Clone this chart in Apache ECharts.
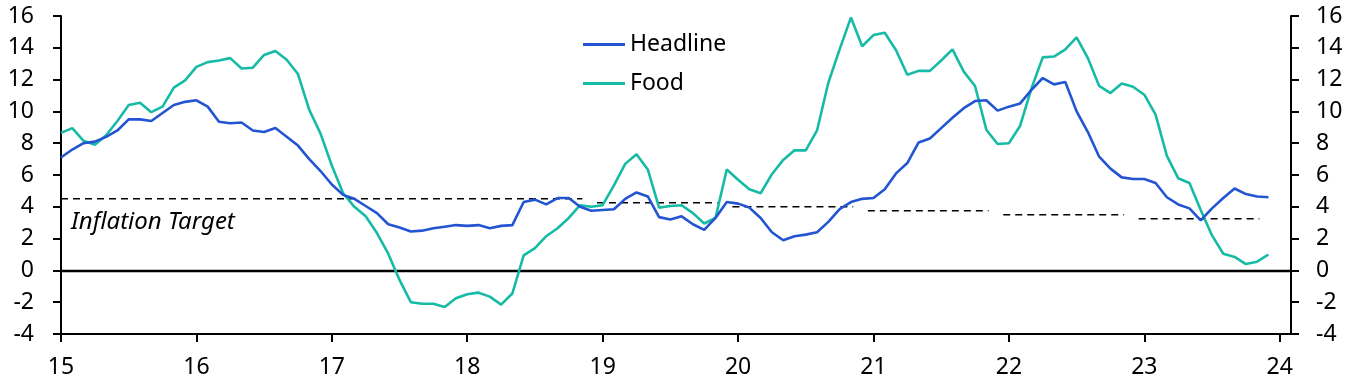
<!DOCTYPE html>
<html>
<head>
<meta charset="utf-8">
<script src="https://cdn.jsdelivr.net/npm/echarts@6/dist/echarts.min.js"></script>
<style>
html,body{margin:0;padding:0;background:#fff;}
#chart{width:1357px;height:384px;}
</style>
</head>
<body>
<div id="chart"></div>
<script>
// Monthly data, Jan 2015 .. Dec 2023 (y/y %)
const headline = [
  7.1,7.6,8.0,8.1,8.4,8.8,9.5,9.5,9.4,9.9,10.4,10.6,
  10.7,10.3,9.35,9.25,9.3,8.8,8.7,8.95,8.4,7.85,7.0,6.25,
  5.4,4.75,4.5,4.05,3.6,2.9,2.7,2.45,2.5,2.65,2.75,2.85,
  2.8,2.85,2.65,2.8,2.85,4.3,4.45,4.15,4.55,4.55,4.0,3.75,
  3.8,3.85,4.5,4.9,4.65,3.35,3.2,3.4,2.9,2.55,3.3,4.3,
  4.2,3.95,3.3,2.4,1.9,2.15,2.25,2.4,3.05,3.85,4.3,4.5,
  4.55,5.1,6.1,6.75,8.05,8.3,8.95,9.6,10.2,10.65,10.7,10.05,
  10.3,10.5,11.35,12.1,11.7,11.85,10.0,8.7,7.15,6.4,5.85,5.75,
  5.75,5.5,4.6,4.15,3.9,3.15,3.9,4.55,5.15,4.8,4.65,4.6
];
const food = [
  8.65,8.95,8.15,7.9,8.5,9.4,10.4,10.55,9.95,10.3,11.5,11.95,
  12.8,13.1,13.2,13.35,12.7,12.75,13.55,13.8,13.25,12.35,10.1,8.6,
  6.6,4.85,4.0,3.4,2.35,1.05,-0.6,-2.0,-2.1,-2.1,-2.3,-1.75,
  -1.5,-1.4,-1.65,-2.15,-1.45,0.95,1.4,2.15,2.65,3.3,4.1,4.0,
  4.1,5.35,6.7,7.3,6.35,3.95,4.05,4.1,3.6,2.95,3.3,6.35,
  5.7,5.1,4.85,6.05,6.95,7.55,7.55,8.8,11.8,13.9,15.9,14.1,
  14.8,14.95,13.85,12.3,12.55,12.55,13.2,13.9,12.5,11.6,8.85,7.95,
  8.0,9.1,11.45,13.4,13.45,13.9,14.65,13.35,11.6,11.15,11.75,11.55,
  11.05,9.8,7.2,5.8,5.5,3.8,2.2,1.05,0.85,0.4,0.55,1.0
];
// Inflation target by calendar year
const targetYears = [2015,2016,2017,2018,2019,2020,2021,2022,2023];
const targetValues = [4.5,4.5,4.5,4.5,4.25,4.0,3.75,3.5,3.25];
// X tick labels (January of each year)
const xTickLabels = ['15','16','17','18','19','20','21','22','23','24'];

const START_YEAR = 2015;
const toPairs = arr => arr.map((v,i)=>[i,v]);

// Build target segments (merge consecutive equal years; gap between steps)
const targetData = [];
let segStart = 0;
for (let k=0;k<targetYears.length;k++){
  const last = k===targetYears.length-1 || targetValues[k+1]!==targetValues[k];
  if (last){
    const m0 = (targetYears[segStart]-START_YEAR)*12 - (segStart===0?0:0.5);
    const m1 = (targetYears[k]-START_YEAR)*12 + 10.2;
    targetData.push([m0,targetValues[k]],[m1,targetValues[k]],[null,null]);
    segStart = k+1;
  }
}
targetData.pop();

const tickPos = xTickLabels.map((_,i)=>i*12);
const FONT = 'Noto Sans';
const FS = 23;

const chart = echarts.init(document.getElementById('chart'), null, {renderer:'canvas'});
const yAxisBase = {
  type:'value', min:-4, max:16, interval:2,
  axisLine:{show:true, lineStyle:{color:'#000', width:2}},
  axisTick:{show:true, inside:false, length:8, lineStyle:{color:'#000', width:2}},
  axisLabel:{color:'#000', fontFamily:FONT, fontSize:FS},
  splitLine:{show:false}
};
chart.setOption({
  animation:false,
  backgroundColor:'#fff',
  grid:{left:61, right:66, top:16, bottom:50, containLabel:false},
  legend:{
    orient:'vertical', left:583, top:33, padding:0, itemWidth:42, itemHeight:3, itemGap:16,
    icon:'rect',
    textStyle:{color:'#000', fontFamily:FONT, fontSize:FS},
    data:['Headline','Food']
  },
  xAxis:{
    type:'value', min:0, max:109, interval:12,
    axisLine:{show:true, onZero:false, lineStyle:{color:'#000', width:2}},
    axisTick:{show:true, length:8, customValues:tickPos, lineStyle:{color:'#000', width:2}},
    axisLabel:{color:'#000', fontFamily:FONT, fontSize:FS, margin:22, customValues:tickPos,
      formatter:v=>{const i=Math.round(v/12); return (v%12===0 && xTickLabels[i]!==undefined)?xTickLabels[i]:'';}},
    splitLine:{show:false}
  },
  yAxis:[
    Object.assign({}, yAxisBase, {position:'left', axisLabel:Object.assign({}, yAxisBase.axisLabel, {margin:27})}),
    Object.assign({}, yAxisBase, {position:'right', axisLabel:Object.assign({}, yAxisBase.axisLabel, {margin:25})})
  ],
  graphic:[{
    type:'text', left:71, top:210,
    style:{text:'Inflation Target', font:'italic 24px "'+FONT+'"', fill:'#000'}
  }],
  series:[
    {
      name:'Target', type:'line', data:targetData, symbol:'none', silent:true,
      connectNulls:false,
      lineStyle:{color:'#000', width:1.5, type:[7,5]},
      z:1
    },
    {
      name:'Headline', type:'line', data:toPairs(headline), symbol:'none',
      lineStyle:{color:'#2354D2', width:2.6}, itemStyle:{color:'#2354D2'}, z:3,
      markLine:{silent:true, symbol:['none','none'], label:{show:false},
        lineStyle:{color:'#000', width:2.4, type:'solid'}, data:[{yAxis:0}], z:2}
    },
    {
      name:'Food', type:'line', data:toPairs(food), symbol:'none',
      lineStyle:{color:'#16BBA6', width:2.6}, itemStyle:{color:'#16BBA6'}, z:2
    }
  ]
});
</script>
</body>
</html>
